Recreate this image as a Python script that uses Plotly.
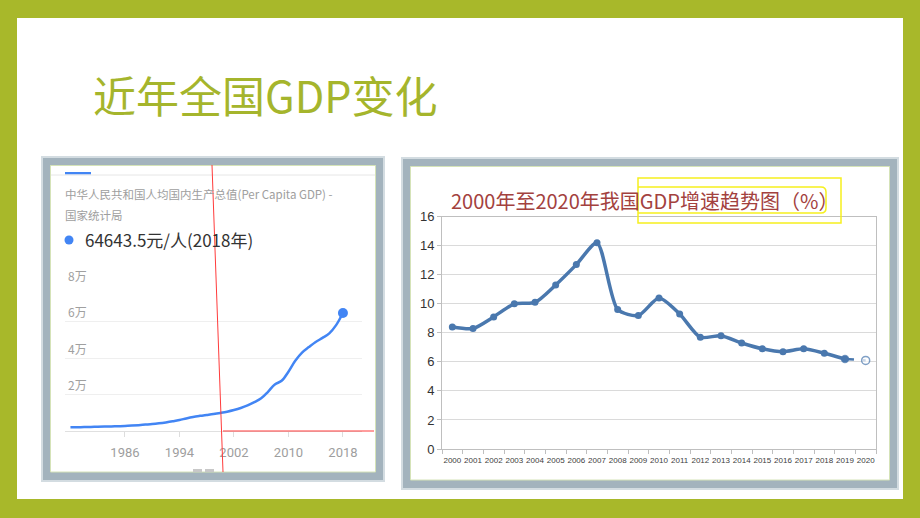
import plotly.graph_objects as go

W, H = 920, 518

# ---------------- data ----------------
slide_title = "近年全国GDP变化"

pc_years = list(range(1978, 2019))
pc_gdp = [2000, 2080, 2160, 2240, 2320, 2400, 2500, 2620, 2740, 2950,
          3200, 3500, 3800, 4200, 4700, 5300, 6000, 6900, 7700, 8300,
          8800, 9300, 9900, 10600, 11500, 12600, 14000, 15800, 17900, 21500,
          25500, 27500, 32500, 38500, 43000, 46000, 48800, 51000, 53500, 58000,
          64643.5]
pc_xticks = [1986, 1994, 2002, 2010, 2018]
pc_yticks = [20000, 40000, 60000, 80000]
pc_ytext = ["2万", "4万", "6万", "8万"]
pc_source = "中华人民共和国人均国内生产总值(Per Capita GDP) -"
pc_source2 = "国家统计局"
pc_latest = "64643.5元/人(2018年)"

gr_years = list(range(2000, 2021))
gr_rate = [8.4, 8.3, 9.1, 10.0, 10.1, 11.3, 12.7, 14.2, 9.6, 9.2, 10.4,
           9.3, 7.7, 7.8, 7.3, 6.9, 6.7, 6.9, 6.6, 6.2, 6.1]
gr_yticks = [0, 2, 4, 6, 8, 10, 12, 14, 16]
gr_title = "2000年至2020年我国GDP增速趋势图（%）"

# ---------------- helpers ----------------
def px(x):
    return x / W

def py(y):
    return 1 - y / H

GREEN = "#A8B82A"
CJK = "Noto Sans CJK SC, Noto Sans, sans-serif"

fig = go.Figure()

# left chart: per-capita GDP
fig.add_trace(go.Scatter(
    x=pc_years, y=pc_gdp, mode="lines",
    line=dict(color="#4285F4", width=2.5, shape="spline", smoothing=1.0),
    xaxis="x", yaxis="y", showlegend=False, hoverinfo="skip"))
fig.add_trace(go.Scatter(
    x=pc_years[-1:], y=pc_gdp[-1:], mode="markers",
    marker=dict(color="#4285F4", size=10),
    xaxis="x", yaxis="y", showlegend=False, hoverinfo="skip"))

# right chart: growth rate
fig.add_trace(go.Scatter(
    x=gr_years[-2:], y=gr_rate[-2:], mode="lines+markers",
    line=dict(color="#4A78AE", width=2.5, dash="dash"),
    marker=dict(color=["#4A78AE", "white"], size=[7, 8],
                line=dict(color="#4A78AE", width=1.5)),
    xaxis="x2", yaxis="y2", showlegend=False, hoverinfo="skip"))
fig.add_trace(go.Scatter(
    x=gr_years[:-1], y=gr_rate[:-1], mode="lines+markers",
    line=dict(color="#4A78AE", width=3.5, shape="spline", smoothing=0.7),
    marker=dict(color="#4A78AE", size=7),
    xaxis="x2", yaxis="y2", showlegend=False, hoverinfo="skip"))

shapes = []
# white slide inside the green border
shapes.append(dict(type="rect", xref="paper", yref="paper",
                   x0=px(17), x1=px(903), y0=py(499), y1=py(18),
                   fillcolor="white", line=dict(width=0), layer="below"))

def frame(x0, y0, x1, y1):
    # blurred grey-blue picture frame
    shapes.append(dict(type="rect", xref="paper", yref="paper",
                       x0=px(x0 - 2), x1=px(x1 + 2), y0=py(y1 + 2), y1=py(y0 - 2),
                       fillcolor="#D3DCE1", line=dict(width=0), layer="below"))
    shapes.append(dict(type="rect", xref="paper", yref="paper",
                       x0=px(x0), x1=px(x1), y0=py(y1), y1=py(y0),
                       fillcolor="#A3B3BD", line=dict(width=0), layer="below"))
    shapes.append(dict(type="rect", xref="paper", yref="paper",
                       x0=px(x0 + 7.5), x1=px(x1 - 7.5), y0=py(y1 - 8), y1=py(y0 + 7.5),
                       fillcolor="white", line=dict(width=1, color="#D5E3B8"),
                       layer="below"))

frame(43, 158, 383, 480)
frame(403, 159, 897, 488)

# left chart decorations
shapes.append(dict(type="rect", xref="paper", yref="paper",
                   x0=px(65), x1=px(91), y0=py(174.5), y1=py(172),
                   fillcolor="#4285F4", line=dict(width=0), layer="below"))
shapes.append(dict(type="line", xref="paper", yref="paper",
                   x0=px(51), x1=px(375), y0=py(175), y1=py(175),
                   line=dict(color="#E6E6E6", width=1), layer="below"))
shapes.append(dict(type="circle", xref="paper", yref="paper",
                   x0=px(64.5), x1=px(73.5), y0=py(244.5), y1=py(235.5),
                   fillcolor="#4285F4", line=dict(width=0), layer="below"))
for gx in (193, 205):
    shapes.append(dict(type="rect", xref="paper", yref="paper",
                       x0=px(gx), x1=px(gx + 9), y0=py(472), y1=py(469),
                       fillcolor="#C8C8C8", line=dict(width=0), layer="below"))
# red marker lines drawn on the picture
shapes.append(dict(type="line", xref="paper", yref="paper",
                   x0=px(212), x1=px(223), y0=py(165), y1=py(472),
                   line=dict(color="#FF3B3B", width=1), layer="above"))
shapes.append(dict(type="line", xref="paper", yref="paper",
                   x0=px(223), x1=px(374), y0=py(431), y1=py(431),
                   line=dict(color="#FF3B3B", width=1), layer="above"))

# yellow highlight boxes on the right title
shapes.append(dict(type="rect", xref="paper", yref="paper",
                   x0=px(638), x1=px(841), y0=py(223), y1=py(178),
                   line=dict(color="#F6F01E", width=1.5), layer="above"))
x0, x1, y0, y1, r = 638, 826, 187, 213, 5
path = (f"M {px(x0)},{py(y0)} L {px(x1 - r)},{py(y0)} "
        f"Q {px(x1)},{py(y0)} {px(x1)},{py(y0 + r)} "
        f"L {px(x1)},{py(y1 - r)} Q {px(x1)},{py(y1)} {px(x1 - r)},{py(y1)} "
        f"L {px(x0)},{py(y1)}")
shapes.append(dict(type="path", xref="paper", yref="paper", path=path,
                   line=dict(color="#F6F01E", width=1.5), layer="above"))

annotations = [
    dict(text=slide_title, xref="paper", yref="paper", x=px(91), y=py(94),
         xanchor="left", yanchor="middle", showarrow=False,
         font=dict(family=CJK, size=43, color="#A5B52C")),
    dict(text=pc_source, xref="paper", yref="paper", x=px(63), y=py(194),
         xanchor="left", yanchor="middle", showarrow=False,
         font=dict(family=CJK, size=11.5, color="#9E9E9E")),
    dict(text=pc_source2, xref="paper", yref="paper", x=px(63), y=py(215),
         xanchor="left", yanchor="middle", showarrow=False,
         font=dict(family=CJK, size=11.5, color="#9E9E9E")),
    dict(text=pc_latest, xref="paper", yref="paper", x=px(83), y=py(240),
         xanchor="left", yanchor="middle", showarrow=False,
         font=dict(family=CJK, size=17, color="#333333")),
    dict(text=gr_title, xref="paper", yref="paper", x=px(449), y=py(200),
         xanchor="left", yanchor="middle", showarrow=False,
         font=dict(family=CJK, size=20, color="#A3413E")),
]

fig.update_layout(
    width=W, height=H,
    margin=dict(l=0, r=0, t=0, b=0, pad=0, autoexpand=False),
    paper_bgcolor=GREEN,
    plot_bgcolor="rgba(0,0,0,0)",
    showlegend=False,
    shapes=shapes,
    annotations=annotations,
    xaxis=dict(
        domain=[px(65), px(362)], range=[1977.2, 2020.8],
        tickmode="array", tickvals=pc_xticks, automargin=False,
        ticks="outside", ticklen=5, tickcolor="#DDDDDD",
        showline=True, linecolor="#E0E0E0", linewidth=1,
        showgrid=False, zeroline=False,
        tickfont=dict(family="Roboto, sans-serif", size=13, color="#9E9E9E"),
        ticklabelstandoff=4,
        anchor="y"),
    yaxis=dict(
        domain=[py(431), py(285)], range=[0, 80000], automargin=False,
        tickmode="array", tickvals=pc_yticks, ticktext=pc_ytext,
        ticklabelposition="inside top", ticklabeloverflow="allow",
        ticks="", showline=False, zeroline=False,
        showgrid=True, gridcolor="#EFEFEF", gridwidth=1,
        tickfont=dict(family=CJK, size=12, color="#A0A0A0"),
        anchor="x"),
    xaxis2=dict(
        domain=[px(442), px(876)], range=[1999.5, 2020.5], automargin=False,
        tickmode="array", tickvals=gr_years, ticktext=[str(y) for y in gr_years],
        tickangle=0,
        ticks="", showgrid=False, zeroline=False,
        showline=True, linecolor="#BFBFBF", linewidth=1, mirror=True,
        minor=dict(tickmode="linear", tick0=1999.5, dtick=1, ticks="outside",
                   ticklen=4, tickcolor="#BFBFBF", showgrid=False),
        tickfont=dict(family="Liberation Sans Narrow, Liberation Sans, Arial, sans-serif",
                      size=8, color="#404040"),
        ticklabelstandoff=3,
        anchor="y2"),
    yaxis2=dict(
        domain=[py(449), py(216.7)], range=[0, 16], automargin=False,
        tickmode="array", tickvals=gr_yticks,
        ticks="outside", ticklen=4, tickcolor="#BFBFBF",
        showline=True, linecolor="#BFBFBF", linewidth=1, mirror=True,
        showgrid=True, gridcolor="#DADADA", gridwidth=1, zeroline=False,
        tickfont=dict(family="Liberation Sans, Arial, sans-serif", size=13, color="#333333"),
        anchor="x2"),
)

# remove the browser's default 8px page margin so the slide fills the window
fig.write_html("out.html", config={"displayModeBar": False},
               post_script="document.body.style.margin='0px';")
